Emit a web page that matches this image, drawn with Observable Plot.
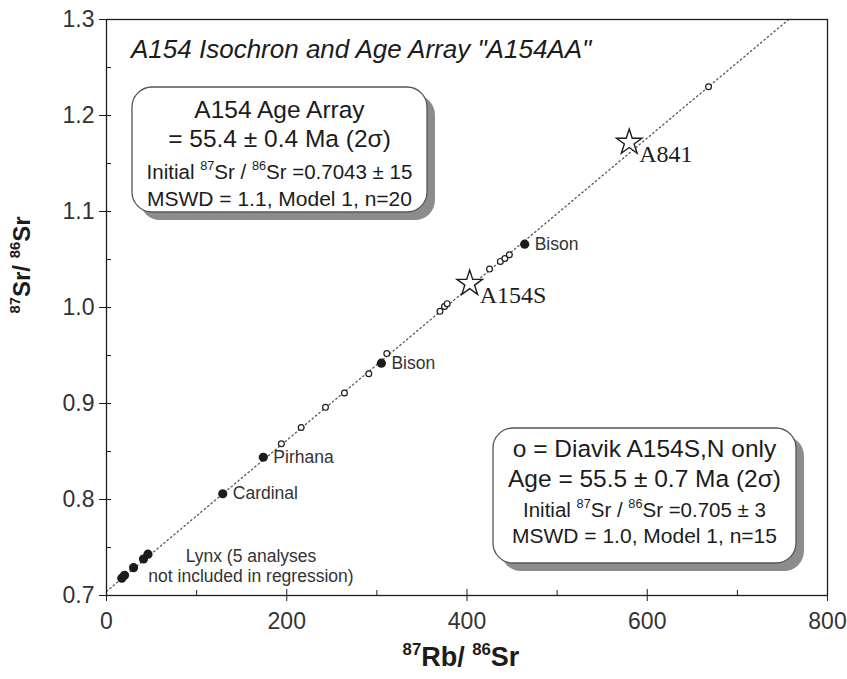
<!DOCTYPE html>
<html>
<head>
<meta charset="utf-8">
<title>A154 Isochron and Age Array</title>
<script src="https://cdn.jsdelivr.net/npm/d3@7"></script>
<script src="https://cdn.jsdelivr.net/npm/@observablehq/plot@0.6"></script>
<style>
  html, body { margin: 0; padding: 0; background: #fff; }
  #chart svg { display: block; }
  #chart text { white-space: pre; }
</style>
</head>
<body>
<div id="chart"></div>
<script>
// Regression samples named by pipe (filled dots)
const pipeNames = ["Cardinal", "Pirhana", "Bison", "Bison"];
const pipeRbSr  = [129, 174, 305, 464];
const pipeSrSr  = [0.806, 0.844, 0.942, 1.066];

// Diavik A154S,N analyses (open circles)
const diavikRbSr = [194, 216, 243, 264, 291, 311, 370, 375, 378, 425, 437, 442, 447, 668];
const diavikSrSr = [0.858, 0.875, 0.896, 0.911, 0.931, 0.952, 0.996, 1.001, 1.004, 1.040, 1.048, 1.051, 1.055, 1.230];

// Lynx analyses, left out of the regression
const lynxRbSr = [17, 20, 30, 41, 46];
const lynxSrSr = [0.718, 0.721, 0.729, 0.738, 0.743];

// Samples marked with stars
const starNames = ["A154S", "A841"];
const starRbSr  = [403, 580];
const starSrSr  = [1.025, 1.172];

// Isochron fit of the age array
const arrayAge = 55.4;        // Ma
const arrayInitial = 0.7043;  // initial 87Sr/86Sr
const lambdaRb87 = 1.42e-11;  // decay constant, 1/yr

// Axis ticks
const xTicks = [0, 200, 400, 600, 800];
const xMinor = [100, 300, 500, 700];
const yTicks = [0.7, 0.8, 0.9, 1.0, 1.1, 1.2, 1.3];
const yMinor = [0.75, 0.85, 0.95, 1.05, 1.15, 1.25];

// ---------------------------------------------------------------
const W = 847, H = 679;
const M = {top: 19, right: 20, bottom: 84, left: 106};
const innerW = W - M.left - M.right;
const innerH = H - M.top - M.bottom;

const sans = "'Liberation Sans', Arial, Helvetica, sans-serif";
const serif = "'Liberation Serif', 'Times New Roman', serif";
const ink = "#1c1c1c";

const slope = Math.expm1(lambdaRb87 * arrayAge * 1e6);
const isochron = [0, 800].map(x => ({x, y: arrayInitial + slope * x}));

const pipes  = pipeNames.map((name, i) => ({name, x: pipeRbSr[i], y: pipeSrSr[i]}));
const diavik = diavikRbSr.map((x, i) => ({x, y: diavikSrSr[i]}));
const lynx   = lynxRbSr.map((x, i) => ({x, y: lynxSrSr[i]}));
const stars  = starNames.map((name, i) => ({name, x: starRbSr[i], y: starSrSr[i]}));

const chart = Plot.plot({
  width: W, height: H,
  marginTop: M.top, marginRight: M.right, marginBottom: M.bottom, marginLeft: M.left,
  style: {fontFamily: sans, fontSize: "23px", color: ink, background: "#fff", overflow: "visible"},
  x: {domain: [0, 800]},
  y: {domain: [0.7, 1.3]},
  marks: [
    Plot.line(isochron, {x: "x", y: "y", clip: true, stroke: "#555", strokeWidth: 1.3, strokeDasharray: "1.4,3"}),
    Plot.dot(lynx, {x: "x", y: "y", r: 4.6, fill: ink}),
    Plot.dot(pipes, {x: "x", y: "y", r: 4.6, fill: ink}),
    Plot.dot(diavik, {x: "x", y: "y", r: 2.9, fill: "#fff", stroke: ink, strokeWidth: 1.2}),
    Plot.dot(stars, {x: "x", y: "y", symbol: "star", r: 8, fill: "#fff", stroke: ink, strokeWidth: 1.4}),
    Plot.text(pipes, {x: "x", y: "y", text: "name", textAnchor: "start", dx: 10, fontSize: 17.5, fill: "#333"}),
    Plot.text(lynx.slice(-1), {
      x: "x", y: "y", text: () => "Lynx (5 analyses\nnot included in regression)",
      dx: 103, dy: 11, lineHeight: 1.15, fontSize: 17.5, fill: "#333"
    }),
    Plot.text(stars, {x: "x", y: "y", text: "name", textAnchor: "start", dx: 10, dy: 12,
      fontSize: 24, fontFamily: serif, fill: ink}),
    Plot.frame({stroke: ink, strokeWidth: 1.3}),
    Plot.axisX({ticks: xTicks, tickSize: 6, tickPadding: 11, label: null, fontSize: 23, fill: "#333", stroke: ink}),
    Plot.tickX(xTicks, {x: d => d, insetTop: innerH - 6, stroke: ink}),
    Plot.tickX(xMinor, {x: d => d, insetTop: innerH - 5, stroke: ink}),
    Plot.axisY({ticks: yTicks, tickSize: 7, tickPadding: 5, label: null, tickFormat: d => d.toFixed(1),
      fontSize: 23, fill: "#333", stroke: ink}),
    Plot.tickY(yTicks, {y: d => d, insetRight: innerW - 5, stroke: ink}),
    Plot.tickY(yMinor, {y: d => d, insetRight: innerW - 5, stroke: ink})
  ]
});

document.getElementById("chart").append(chart);

// ---------------------------------------------------------------
// Annotations: title, result boxes and axis titles
const svg = d3.select(chart);
const notes = svg.append("g").attr("font-family", sans).attr("fill", ink);

// text line made of plain and superscript runs
function richText(parent, x, y, size, parts) {
  const t = parent.append("text").attr("x", x).attr("y", y).attr("font-size", size);
  const shift = size * 0.42, small = size * 0.62;
  let raised = false;
  for (const [str, sup] of parts) {
    const span = t.append("tspan").text(str);
    if (sup) span.attr("font-size", small);
    if (sup && !raised) { span.attr("dy", -shift); raised = true; }
    else if (!sup && raised) { span.attr("dy", shift); raised = false; }
  }
  return t;
}

notes.append("text")
  .attr("x", 131).attr("y", 58)
  .attr("text-anchor", "start")
  .attr("font-size", 26).attr("font-style", "italic")
  .text("A154 Isochron and Age Array \"A154AA\"");

function resultBox(x0, y0, x1, y1, lines) {
  const g = notes.append("g");
  g.append("rect").attr("x", x0 + 8).attr("y", y0 + 8)
    .attr("width", x1 - x0).attr("height", y1 - y0).attr("rx", 20)
    .attr("fill", "#8c8c8c");
  g.append("rect").attr("x", x0).attr("y", y0)
    .attr("width", x1 - x0).attr("height", y1 - y0).attr("rx", 20)
    .attr("fill", "#fff").attr("stroke", "#555").attr("stroke-width", 1.3);
  const cx = (x0 + x1) / 2;
  for (const [y, size, parts] of lines) {
    richText(g, cx, y, size, parts).attr("text-anchor", "middle");
  }
}

resultBox(132, 87, 427, 212, [
  [118, 24.5, [["A154 Age Array"]]],
  [147, 24.5, [["= 55.4 ± 0.4 Ma (2σ)"]]],
  [179, 20.5, [["Initial "], ["87", true], ["Sr / "], ["86", true], ["Sr =0.7043 ± 15"]]],
  [206, 21, [["MSWD = 1.1, Model 1, n=20"]]]
]);

resultBox(493, 428, 796, 563, [
  [457, 24.5, [["o = Diavik A154S,N only"]]],
  [487, 24.5, [["Age = 55.5 ± 0.7 Ma (2σ)"]]],
  [517, 20.5, [["Initial "], ["87", true], ["Sr / "], ["86", true], ["Sr =0.705 ± 3"]]],
  [543, 21, [["MSWD = 1.0, Model 1, n=15"]]]
]);

// axis titles
richText(notes, 461, 666, 27, [["87", true], ["Rb/ "], ["86", true], ["Sr"]])
  .attr("text-anchor", "middle").attr("font-weight", "bold");

richText(notes.append("g").attr("transform", "translate(30,265) rotate(-90)"), 0, 0, 24,
  [["87", true], ["Sr/ "], ["86", true], ["Sr"]])
  .attr("text-anchor", "middle").attr("font-weight", "bold");
</script>
</body>
</html>
